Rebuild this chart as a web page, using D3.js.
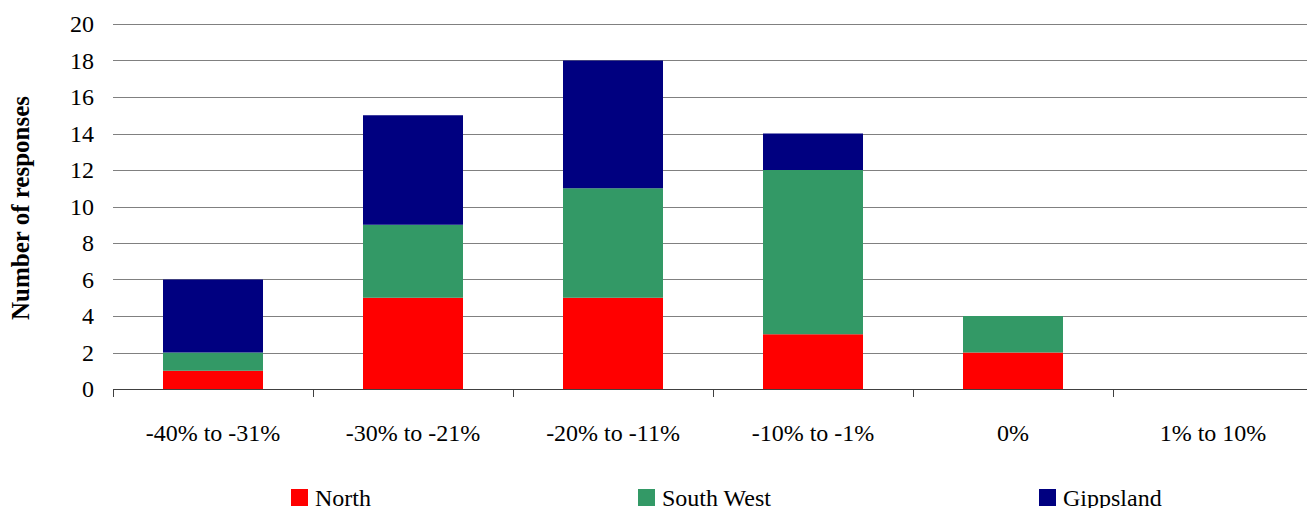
<!DOCTYPE html>
<html><head><meta charset="utf-8">
<script src="https://cdn.jsdelivr.net/npm/d3@7"></script>
<style>body{margin:0;background:#fff;} svg{display:block;} text{font-family:'Liberation Serif','Times New Roman','DejaVu Serif',serif;}</style>
</head><body>
<svg id="c" width="1307" height="508"></svg>
<script>
const categories = ["-40% to -31%","-30% to -21%","-20% to -11%","-10% to -1%","0%","1% to 10%"];
const seriesNames = ["North","South West","Gippsland"];
const north = [1,5,5,3,2,0];
const southWest = [1,4,6,9,2,0];
const gippsland = [4,6,7,2,0,0];
const colors = ["#FF0000","#339966","#000080"];
const yTicks = [0,2,4,6,8,10,12,14,16,18,20];

(function(){
const svg = d3.select("#c");
const pLeft = 113, pRight = 1313, pTop = 24, pBottom = 389;
const x = d3.scaleBand().domain(categories).range([pLeft, pRight]).paddingInner(0.5).paddingOuter(0.25);
const xb = d3.scaleBand().domain(categories).range([pLeft, pRight]);
const y = d3.scaleLinear().domain([0,20]).range([pBottom, pTop]);

svg.append("g").selectAll("line").data(yTicks.filter(d=>d>0)).join("line")
  .attr("x1", pLeft).attr("x2", 1307).attr("y1", d=>Math.round(y(d))+0.5).attr("y2", d=>Math.round(y(d))+0.5)
  .attr("stroke","#808080").attr("stroke-width",1);

const rows = categories.map((c,i)=>({cat:c, North:north[i], "South West":southWest[i], Gippsland:gippsland[i]}));
const stack = d3.stack().keys(seriesNames)(rows);
svg.append("g").selectAll("g").data(stack).join("g").attr("fill",(d,i)=>colors[i])
  .selectAll("rect").data(d=>d).join("rect")
  .attr("x", d=>x(d.data.cat)).attr("width", x.bandwidth())
  .attr("y", d=>y(d[1])).attr("height", d=>y(d[0])-y(d[1]));

svg.append("g").selectAll("text").data(yTicks).join("text")
  .attr("x", 94).attr("y", d=>y(d)).attr("dy","0.35em").attr("text-anchor","end")
  .attr("font-size",24).attr("fill","#000").text(d=>d);

svg.append("line").attr("x1",pLeft).attr("x2",1307).attr("y1",pBottom+0.5).attr("y2",pBottom+0.5).attr("stroke","#404040");
const tickXs = categories.map(c=>xb(c)).concat([pRight]);
svg.append("g").selectAll("line").data(tickXs).join("line")
  .attr("x1",d=>Math.round(d)+0.5).attr("x2",d=>Math.round(d)+0.5).attr("y1",pBottom).attr("y2",pBottom+8)
  .attr("stroke","#404040");
svg.append("g").selectAll("text").data(categories).join("text")
  .attr("x", d=>xb(d)+xb.bandwidth()/2).attr("y", 441).attr("text-anchor","middle")
  .attr("font-size",24).attr("fill","#000").text(d=>d);

svg.append("text").attr("transform","translate(29,208) rotate(-90)").attr("text-anchor","middle")
  .attr("font-size",25).attr("font-weight","bold").text("Number of responses");

const legX = [291, 638, 1039];
const lg = svg.append("g").selectAll("g").data(seriesNames).join("g")
  .attr("transform",(d,i)=>`translate(${legX[i]},489)`);
lg.append("rect").attr("width",17).attr("height",17).attr("fill",(d,i)=>colors[i]);
lg.append("text").attr("x",24).attr("y",17).attr("font-size",24).text(d=>d);
})();
</script>
</body></html>
